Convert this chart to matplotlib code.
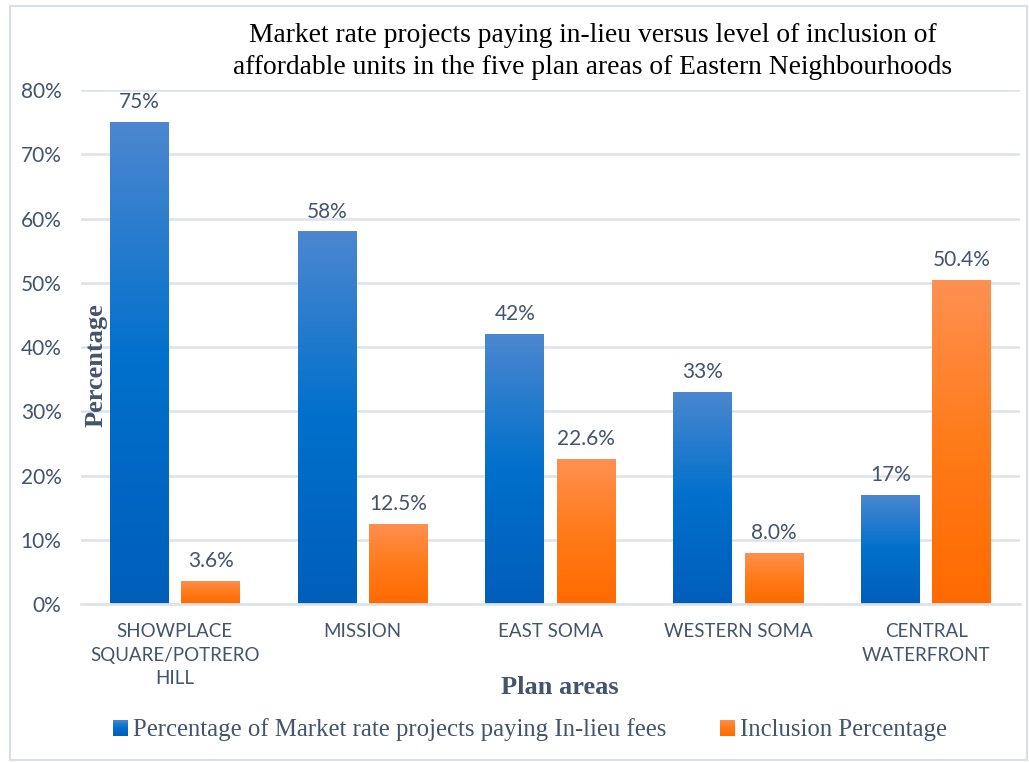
import numpy as np
import matplotlib
matplotlib.use("Agg")
import matplotlib.pyplot as plt
from matplotlib.patches import Rectangle
from matplotlib.legend_handler import HandlerBase
from matplotlib.colors import LinearSegmentedColormap

# ---- data ----
categories = ["SHOWPLACE\nSQUARE/POTRERO\nHILL", "MISSION", "EAST SOMA",
              "WESTERN SOMA", "CENTRAL\nWATERFRONT"]
in_lieu = [0.75, 0.58, 0.42, 0.33, 0.17]
inclusion = [0.036, 0.125, 0.226, 0.080, 0.504]
in_lieu_labels = ["75%", "58%", "42%", "33%", "17%"]
inclusion_labels = ["3.6%", "12.5%", "22.6%", "8.0%", "50.4%"]
yticks = [0, 0.1, 0.2, 0.3, 0.4, 0.5, 0.6, 0.7, 0.8]
ytick_labels = ["0%", "10%", "20%", "30%", "40%", "50%", "60%", "70%", "80%"]
series_names = ["Percentage of Market rate projects paying In-lieu fees",
                "Inclusion Percentage"]
title = ("Market rate projects paying in-lieu versus level of inclusion of\n"
         "affordable units in the five plan areas of Eastern Neighbourhoods")

TEXT = "#44546a"
GRID = "#dde3ea"
SANS = ["Lato", "DejaVu Sans"]
SERIF = ["Liberation Serif", "DejaVu Serif"]

blue_cmap = LinearSegmentedColormap.from_list(
    "b", [(0.0, "#005ebb"), (0.5, "#0070cc"), (1.0, "#4c87d0")])
orange_cmap = LinearSegmentedColormap.from_list(
    "o", [(0.0, "#ff6a00"), (0.5, "#ff7b1a"), (1.0, "#ff9052")])

fig = plt.figure(figsize=(10.29, 7.63), dpi=100)
fig.patch.set_facecolor("white")
# outer border
fig.add_artist(Rectangle((0.0097, 0.004), 0.988, 0.988, transform=fig.transFigure,
                         fill=False, edgecolor="#d9dfe6", linewidth=1.5))

ax = fig.add_axes([0.0787, 0.2084, 0.9126, 0.6736])
x = np.arange(len(categories))
w = 0.314
off = 0.19

grad = np.linspace(0, 1, 256).reshape(-1, 1)


def gradient_bars(vals, pos, cmap):
    bars = ax.bar(pos, vals, width=w, facecolor="none", edgecolor="none", zorder=3)
    for r in bars:
        x0, y0 = r.get_x(), r.get_y()
        im = ax.imshow(grad, cmap=cmap, origin="lower", aspect="auto",
                       extent=[x0, x0 + r.get_width(), y0, y0 + r.get_height()],
                       zorder=3, interpolation="bilinear")
        im.set_clip_path(r)
    return bars


b1 = gradient_bars(in_lieu, x - off, blue_cmap)
b2 = gradient_bars(inclusion, x + off, orange_cmap)

for bars, labs in ((b1, in_lieu_labels), (b2, inclusion_labels)):
    for r, lab in zip(bars, labs):
        ax.annotate(lab, (r.get_x() + r.get_width() / 2, r.get_height()),
                    xytext=(0, 7), textcoords="offset points", ha="center",
                    va="bottom", fontsize=15, color=TEXT, family=SANS)

ax.set_xlim(-0.5, len(categories) - 0.5)
ax.set_ylim(0, 0.8)
ax.set_yticks(yticks)
ax.set_yticklabels(ytick_labels, fontsize=15, color=TEXT, family=SANS)
ax.set_xticks(x)
ax.set_xticklabels(categories, fontsize=13.5, color=TEXT, family=SANS,
                   linespacing=1.45)
ax.tick_params(axis="both", length=0)
ax.tick_params(axis="x", pad=14)
ax.tick_params(axis="y", pad=14)
for s in ["top", "right", "left"]:
    ax.spines[s].set_visible(False)
ax.spines["bottom"].set_color(GRID)
ax.spines["bottom"].set_linewidth(2)
ax.spines["bottom"].set_zorder(4)
ax.yaxis.grid(True, color=GRID, linewidth=1.8, zorder=0)
ax.set_axisbelow(True)

fig.text(0.576, 0.933, title, ha="center", va="center", fontsize=19.8,
         family=SERIF, color="black", linespacing=1.38)
fig.text(0.093, 0.522, "Percentage", rotation=90, ha="center", va="center",
         fontsize=19, fontweight="bold", family=SERIF, color=TEXT)
fig.text(0.544, 1 - 688 / 763, "Plan areas", ha="center", va="center",
         fontsize=19, fontweight="bold", family=SERIF, color=TEXT)


class HandlerGradient(HandlerBase):
    def __init__(self, cmap):
        super().__init__()
        self.cmap = cmap

    def create_artists(self, legend, orig_handle, xdescent, ydescent, width,
                       height, fontsize, trans):
        n = 20
        arts = []
        for i in range(n):
            c = self.cmap(1 - (i + 0.5) / n)
            arts.append(Rectangle((-xdescent, -ydescent + height * (1 - (i + 1) / n)),
                                  width, height / n + 0.3, facecolor=c,
                                  edgecolor="none", transform=trans))
        return arts


h1 = Rectangle((0, 0), 1, 1)
h2 = Rectangle((0, 0), 1, 1)
fig.legend([h1, h2], series_names, loc="center",
           bbox_to_anchor=(0.515, 1 - 730 / 763), ncol=2, frameon=False,
           prop={"family": SERIF, "size": 17.8}, labelcolor=TEXT,
           handlelength=0.6, handleheight=0.6, handletextpad=0.2,
           columnspacing=2.2,
           handler_map={h1: HandlerGradient(blue_cmap),
                        h2: HandlerGradient(orange_cmap)})

fig.savefig("out.png", dpi=100)
